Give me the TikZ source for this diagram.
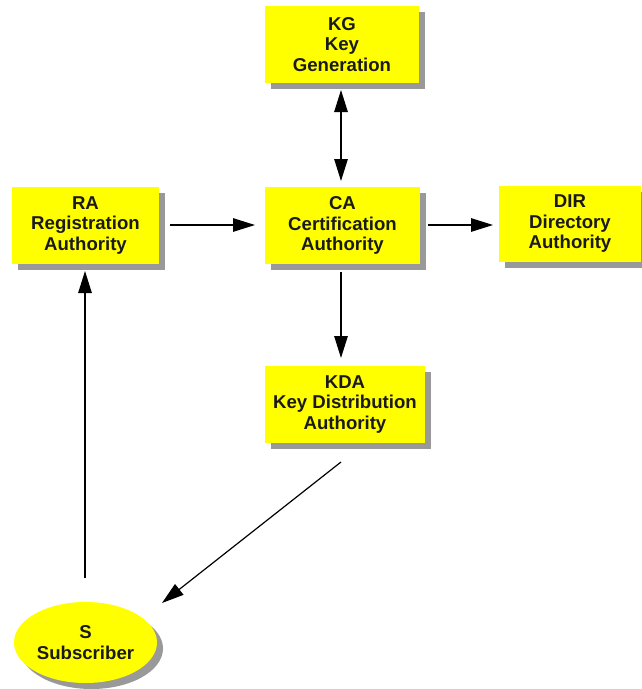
\documentclass[tikz,border=0pt]{standalone}
\usepackage{fontspec}
\setmainfont{Liberation Sans}
\usetikzlibrary{arrows.meta,shadows,shapes.geometric}
\definecolor{boxyellow}{HTML}{FFFF00}
\definecolor{shadowgray}{HTML}{999999}
\definecolor{labeltext}{HTML}{1A1A1A}
\begin{document}
\begin{tikzpicture}[x=1pt,y=-1pt,
  authority/.style={rectangle, fill=boxyellow, inner sep=0pt, align=center,
    font=\fontsize{18.6}{20.5}\selectfont\bfseries, text=labeltext,
    drop shadow={shadow xshift=6pt, shadow yshift=-6pt, fill=shadowgray, opacity=1}},
  party/.style={ellipse, fill=boxyellow, inner sep=0pt, align=center,
    font=\fontsize{18.6}{20.5}\selectfont\bfseries, text=labeltext,
    minimum width=143pt, minimum height=81pt,
    drop shadow={shadow xshift=6pt, shadow yshift=-6pt, fill=shadowgray, opacity=1}},
  flow/.style={line width=1.2pt, -{Triangle[length=22pt,width=13.5pt]}},
  twoway/.style={line width=1.2pt, {Triangle[length=22pt,width=13.5pt]}-{Triangle[length=22pt,width=13.5pt]}}
]
\useasboundingbox (0,0) rectangle (641,689);

% authorities
\node[authority, minimum width=154pt, minimum height=77pt] (kg)  at (342,44.5)  {KG\\Key\\Generation};
\node[authority, minimum width=147pt, minimum height=77pt] (ra)  at (85.5,225.5) {RA\\Registration\\Authority};
\node[authority, minimum width=155pt, minimum height=77pt] (ca)  at (342.5,225.5) {CA\\Certification\\Authority};
\node[authority, minimum width=142pt, minimum height=76pt] (dir) at (570,224)   {DIR\\Directory\\Authority};
\node[authority, minimum width=160pt, minimum height=77pt] (kda) at (345,404.5) {KDA\\Key Distribution\\Authority};

% subscriber
\node[party] (s) at (85.5,642.5) {S\\Subscriber};

% loose ends of the connectors
\coordinate (kgout)  at (341,90);
\coordinate (caintop) at (341,181);
\coordinate (raout)  at (170,225);
\coordinate (cainl)  at (255,225);
\coordinate (caoutr) at (428,225);
\coordinate (dirin)  at (493,225);
\coordinate (caoutb) at (341,272);
\coordinate (kdain)  at (341,358);
\coordinate (kdaout) at (341,462);
\coordinate (sin)    at (162,603);
\coordinate (sout)   at (85,578);
\coordinate (rain)   at (85,271);

% connectors
\draw[twoway] (kgout) -- (caintop);
\draw[flow] (raout) -- (cainl);
\draw[flow] (caoutr) -- (dirin);
\draw[flow] (caoutb) -- (kdain);
\draw[flow] (kdaout) -- (sin);
\draw[flow] (sout) -- (rain);
\end{tikzpicture}
\end{document}
